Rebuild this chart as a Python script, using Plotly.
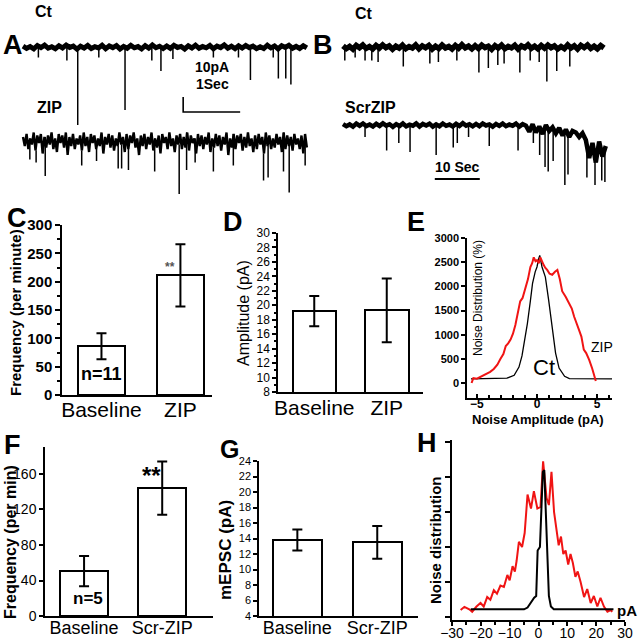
import numpy as np
import plotly.graph_objects as go

W, H = 639, 640
FONT = "Liberation Sans, Arial, sans-serif"
RED = "#f01414"

def fx(p):
    return p / W

def fy(p):
    return 1 - p / H

# ---------------- Panel A : recordings (time in s, current in pA) ----------------
a_dur = 4.98
a_ct_noise = [0.6, -0.9, 0.3, -1.2, 1.0, -0.4, 1.2, -0.8, 0.2, -1.1, 0.8, -0.6, 1.3, -0.3, 0.6, -1.4, 0.5, -0.7, 1.0, -1.0,
              0.2, -0.6, 1.2, -1.1, 0.7, -0.4, 0.9, -1.3, 0.4, -0.8, 1.1, -0.5, 0.3, -1.2, 0.9, -0.7, 1.3, -0.5, 0.5, -1.0,
              0.7, -0.9, 1.1, -0.3, 0.4, -1.3, 0.8, -0.6, 1.2, -0.9, 0.3, -0.5, 1.0, -1.2, 0.6, -0.4, 1.4, -0.8, 0.5, -1.1,
              0.8, -0.7, 1.0, -0.4, 0.6, -1.1, 0.2, -1.0, 1.2, -0.6, 0.7, -1.3, 0.9, -0.3, 1.1, -0.8, 0.4, -1.0, 0.8, -0.6]
a_ct_ev_t = [0.27, 0.77, 0.96, 1.33, 1.79, 2.26, 2.42, 2.63, 3.34, 3.78, 3.99, 4.39, 4.48, 4.61, 4.70]
a_ct_ev_depth = [7, 9, 52, 7, 42, 9, 16, 8, 7, 7, 22, 7, 21, 21, 25]

a_zip_offset = -62
a_zip_noise = [2, -4, 4, -6, 1, -3, 5, -7, 3, -2, 4, -9, 2, -5, 3, -3, 5, -6, 1, -8,
               4, -2, 3, -5, 5, -10, 2, -4, 4, -6, 1, -3, 3, -7, 5, -4, 2, -8, 4, -2,
               3, -6, 1, -4, 5, -9, 2, -3, 4, -5, 3, -7, 1, -4, 5, -3, 2, -8, 4, -6,
               3, -2, 5, -5, 1, -10, 3, -4, 4, -6, 2, -3, 5, -7, 1, -5, 3, -9, 4, -2,
               2, -6, 5, -4, 1, -8, 3, -3, 4, -6, 2, -5, 5, -7, 3, -2, 1, -9, 4, -4,
               3, -6, 2, -3, 5, -8, 1, -5, 4, -4, 3, -7, 2, -3, 5, -10, 1, -5, 4, -6,
               3, -2, 4, -7, 2, -5, 5, -4, 1, -8, 3, -6, 4, -3, 2, -9, 5, -4, 3, -6,
               1, -5, 4, -3, 2, -8, 5, -6, 3, -4, 2, -7, 4, -3, 1, -6, 3, -9, 4, -5]
a_zip_ev_t = [0.12, 0.23, 0.39, 1.03, 1.29, 1.67, 1.73, 1.85, 2.31, 2.74, 2.87, 3.02, 3.34, 3.69, 4.22, 4.30, 4.57, 4.67, 4.95]
a_zip_ev_depth = [13, 15, 24, 17, 14, 19, 19, 20, 21, 36, 20, 15, 21, 17, 27, 25, 21, 35, 17]

# ---------------- Panel B : recordings ----------------
b_ct_dur = 58.0
b_ct_noise = [0.8, -1.1, 0.4, -1.4, 1.1, -0.5, 1.3, -0.9, 0.3, -1.3, 1.0, -0.7, 1.4, -0.5, 0.7, -1.5, 0.5, -0.8, 1.2, -1.1,
              0.3, -0.7, 1.4, -1.2, 0.8, -0.5, 1.1, -1.4, 0.5, -1.0, 1.3, -0.6, 0.4, -1.3, 1.0, -0.8, 1.5, -0.6, 0.6, -1.2,
              0.9, -1.0, 1.2, -0.4, 0.5, -1.5, 0.9, -0.7, 1.3, -1.1, 0.4, -0.6, 1.1, -1.4, 0.7, -0.5, 1.5, -0.9, 0.6, -1.2,
              1.0, -0.8, 1.2, -0.5, 0.7, -1.3, 0.3, -1.1, 1.4, -0.7, 0.8, -1.4, 1.1, -0.4, 1.3, -1.0, 0.5, -1.2, 0.9, -0.7]
b_ct_ev_t = [0.4, 2.7, 4.9, 6.4, 7.8, 13.4, 19.3, 21.2, 25.3, 30.2, 32.3, 34.4, 35.8, 39.3, 41.6, 43.6, 45.3, 47.5, 50.4]
b_ct_ev_depth = [9, 7, 9, 9, 10, 13, 11, 10, 9, 17, 14, 12, 11, 17, 9, 10, 23, 16, 13]

b_scr_dur = 58.4
b_scr_offset = -52
b_scr_noise = [0.6, -0.8, 0.4, -1.1, 0.9, -0.5, 1.0, -0.7, 0.3, -1.0, 0.8, -0.6, 1.1, -0.4, 0.5, -1.2, 0.5, -0.7, 1.0, -0.9,
               0.2, -0.5, 1.1, -1.0, 0.7, -0.3, 0.9, -1.1, 0.4, -0.8, 1.0, -0.5, 0.3, -1.0, 0.8, -0.6, 1.2, -0.4, 0.5, -0.9,
               0.7, -0.8, 1.0, -0.3, 0.4, -1.1, 0.7, -0.6, 1.0, -0.8, 0.3, -0.5, 0.9, -1.1, 0.6,
               -0.5, -4.5, 0.5, -5.0, -1.0, -6.0, 0.0, -4.0, -1.5, -5.5,
               -2.0, -7.0, -3.0, -8.0, -4.0,
               -5.0, -8.0, -5.5,
               -10, -22, -12, -25, -11, -21, -14]
b_scr_ev_t = [4.9, 9.7, 12.4, 14.9, 20.7, 24.5, 25.4, 27.9, 32.5, 38.9, 42.3, 43.7, 44.9, 45.6, 46.7, 49.3, 50.0, 54.2, 56.0, 57.5, 58.2]
b_scr_ev_depth = [8, 17, 12, 18, 20, 15, 12, 8, 14, 17, 12, 20, 28, 31, 24, 40, 33, 35, 40, 37, 38]

# ---------------- Bar panels ----------------
c_cats = ["Baseline", "ZIP"]
c_vals = [86, 211]
c_errs = [23, 55]

d_cats = ["Baseline", "ZIP"]
d_vals = [19.2, 19.3]
d_errs = [2.1, 4.4]

f_cats = ["Baseline", "Scr-ZIP"]
f_vals = [50.5, 144]
f_errs = [17, 30]

g_cats = ["Baseline", "Scr-ZIP"]
g_vals = [13.8, 13.5]
g_errs = [1.35, 2.1]

# ---------------- Panel E : noise distributions ----------------
e_zip_x = [-5.45, -5.3, -5.0, -4.75, -4.45, -4.2, -3.9, -3.6, -3.3, -3.05, -2.8, -2.6, -2.4, -2.2, -2.0, -1.8, -1.6, -1.4,
           -1.2, -0.97, -0.75, -0.55, -0.4, -0.27, -0.12, 0.0, 0.15, 0.28, 0.42, 0.56, 0.7, 0.85, 1.05, 1.27, 1.5, 1.7,
           1.9, 2.1, 2.4, 2.7, 2.9, 3.1, 3.3, 3.5, 3.7, 3.9, 4.1, 4.35, 4.6, 4.8, 4.9]
e_zip_y = [0, 103, 90, 124, 150, 186, 230, 290, 380, 496, 600, 765, 820, 900, 1020, 1200, 1450, 1690,
           1760, 1960, 2150, 2400, 2480, 2600, 2520, 2540, 2480, 2600, 2500, 2440, 2380, 2340, 2260, 2240, 2300, 2340,
           2150, 1900, 1780, 1650, 1540, 1370, 1250, 1100, 960, 690, 620, 480, 300, 140, 40]
e_ct_x = [-5.5, -2.5, -1.9, -1.5, -1.25, -1.06, -0.8, -0.55, -0.37, -0.15, 0.0, 0.12, 0.23, 0.42, 0.7, 0.97, 1.27, 1.55, 1.84, 2.3, 2.7, 6.4]
e_ct_y = [85, 100, 160, 330, 560, 810, 1230, 1700, 2060, 2300, 2400, 2550, 2640, 2400, 2190, 1720, 1100, 620, 310, 140, 90, 85]

# ---------------- Panel H : noise distributions ----------------
h_scr_x = [-27.0, -25.7, -24.0, -23.0, -21.5, -20.1, -19.0, -17.8, -16.7, -15.5, -14.4, -13.2, -12.0, -10.8, -10.0, -9.0, -8.2, -7.6,
           -6.8, -5.7, -4.8, -3.8, -2.6, -1.6, -0.4, 0.7, 1.6, 2.8, 3.6, 4.5, 5.4, 6.3, 7.0, 7.8, 8.6, 9.4, 10.3, 11.1, 11.9,
           12.8, 13.6, 14.6, 15.8, 16.9, 18.1, 19.2, 20.4, 21.5, 22.7, 23.9, 25.0, 25.6]
h_scr_y = [0.2, 0.29, 0.22, 0.15, 0.3, 0.4, 0.3, 0.57, 0.49, 0.77, 0.67, 0.9, 0.86, 1.2, 1.05, 1.45, 1.3, 1.6,
           2.15, 2.0, 2.4, 3.5, 3.1, 3.6, 3.1, 3.15, 4.45, 3.4, 3.2, 4.15, 3.0, 2.5, 2.05, 2.3, 1.8, 1.9, 1.5, 1.8, 1.55,
           1.15, 1.3, 1.0, 0.57, 0.8, 0.4, 0.6, 0.3, 0.55, 0.3, 0.15, 0.2, 0.15]
h_ct_x = [-23.5, -5.0, -3.8, -2.5, -1.5, -0.8, -0.3, 0.5, 1.0, 1.5, 2.0, 2.6, 3.1, 3.6, 4.3, 5.3, 8.0, 26.0]
h_ct_y = [0.22, 0.22, 0.27, 0.45, 0.55, 0.6, 1.9, 2.0, 3.0, 4.15, 4.2, 3.0, 1.5, 0.6, 0.3, 0.22, 0.22, 0.22]

# scale bars (data units)
a_sb_t0, a_sb_p0, a_sb_dt, a_sb_dp = 2.81, -43.3, 1.0, 10.0
b_sb_t0, b_sb_p0, b_sb_dt = 20.4, -88.0, 10.0

fig = go.Figure()


def add_recording(noise, dur, offset, ev_t, ev_depth, xa, ya, width):
    t = np.linspace(0, dur, len(noise))
    y = np.asarray(noise, float) + offset
    fig.add_trace(go.Scatter(x=t, y=y, mode="lines", line=dict(color="black", width=width),
                             xaxis=xa, yaxis=ya, showlegend=False, hoverinfo="skip"))
    xs, ys = [], []
    n = len(noise)
    for te, d in zip(ev_t, ev_depth):
        i = int(round(te / dur * (n - 1)))
        xs += [te, te, None]
        ys += [y[i], offset - d, None]
    fig.add_trace(go.Scatter(x=xs, y=ys, mode="lines", line=dict(color="black", width=1.5),
                             xaxis=xa, yaxis=ya, showlegend=False, hoverinfo="skip"))


add_recording(a_ct_noise, a_dur, 0, a_ct_ev_t, a_ct_ev_depth, "x", "y", 5.0)
add_recording(a_zip_noise, a_dur, a_zip_offset, a_zip_ev_t, a_zip_ev_depth, "x", "y", 2.4)
add_recording(b_ct_noise, b_ct_dur, 0, b_ct_ev_t, b_ct_ev_depth, "x2", "y2", 5.5)
add_recording(b_scr_noise, b_scr_dur, b_scr_offset, b_scr_ev_t, b_scr_ev_depth, "x2", "y2", 4.5)

# scale bars
fig.add_trace(go.Scatter(x=[a_sb_t0, a_sb_t0, a_sb_t0 + a_sb_dt], y=[a_sb_p0 + a_sb_dp, a_sb_p0, a_sb_p0],
                         mode="lines", line=dict(color="black", width=1.6), xaxis="x", yaxis="y",
                         showlegend=False, hoverinfo="skip"))
fig.add_trace(go.Scatter(x=[b_sb_t0, b_sb_t0 + b_sb_dt], y=[b_sb_p0, b_sb_p0],
                         mode="lines", line=dict(color="black", width=1.8), xaxis="x2", yaxis="y2",
                         showlegend=False, hoverinfo="skip"))


def add_bars(vals, errs, xa, ya, width):
    fig.add_trace(go.Bar(x=[0, 1], y=vals, width=width,
                         marker=dict(color="white", line=dict(color="black", width=2)),
                         error_y=dict(type="data", array=errs, color="black", thickness=2, width=5),
                         xaxis=xa, yaxis=ya, showlegend=False, hoverinfo="skip"))


add_bars(c_vals, c_errs, "x3", "y3", 0.6)
add_bars(d_vals, d_errs, "x4", "y4", 0.6)
add_bars(f_vals, f_errs, "x6", "y6", 0.62)
add_bars(g_vals, g_errs, "x7", "y7", 0.61)

fig.add_trace(go.Scatter(x=e_ct_x, y=e_ct_y, mode="lines", line=dict(color="black", width=1.3),
                         xaxis="x5", yaxis="y5", showlegend=False, hoverinfo="skip"))
fig.add_trace(go.Scatter(x=e_zip_x, y=e_zip_y, mode="lines", line=dict(color=RED, width=2),
                         xaxis="x5", yaxis="y5", showlegend=False, hoverinfo="skip"))
fig.add_trace(go.Scatter(x=h_scr_x, y=h_scr_y, mode="lines", line=dict(color=RED, width=2),
                         xaxis="x8", yaxis="y8", showlegend=False, hoverinfo="skip"))
fig.add_trace(go.Scatter(x=h_ct_x, y=h_ct_y, mode="lines", line=dict(color="black", width=2),
                         xaxis="x8", yaxis="y8", showlegend=False, hoverinfo="skip"))


def hidden(domain, rng, anchor):
    return dict(domain=domain, range=rng, visible=False, anchor=anchor, fixedrange=True, automargin=False)


def ax_common(**kw):
    d = dict(showline=True, linecolor="black", linewidth=1.5, showgrid=False, zeroline=False,
             ticks="outside", tickcolor="black", tickwidth=1.5, ticklen=5, automargin=False, tickangle=0,
             tickfont=dict(family=FONT, color="black", size=12))
    d.update(kw)
    return d


def cat_axis(domain, rng, anchor, cats, size, standoff):
    return ax_common(domain=domain, range=rng, anchor=anchor, ticks="", tickvals=[0, 1], ticktext=cats,
                     ticklabelstandoff=standoff,
                     tickfont=dict(family=FONT, color="black", size=size))


layout_axes = dict(
    xaxis=hidden([0, fx(320)], [-23 / 57, (320 - 23) / 57], "y"),
    yaxis=hidden([fy(200), 1], [-102, 31.33], "x"),
    xaxis2=hidden([fx(320), 1], [-23 / 4.5, (639 - 343) / 4.5], "y2"),
    yaxis2=hidden([fy(200), 1], [-102, 31.33], "x2"),
    # C
    xaxis3=cat_axis([fx(62), fx(212)], [-0.5, 1.4], "y3", c_cats, 21, -5),
    yaxis3=ax_common(domain=[fy(395), fy(225)], range=[0, 300], anchor="x3", dtick=50,
                     minor=dict(ticks="outside", ticklen=3, dtick=25, tickcolor="black"),
                     tickfont=dict(family=FONT, color="black", size=15, weight="bold")),
    # D
    xaxis4=cat_axis([fx(278), fx(423)], [-0.5, 1.5], "y4", d_cats, 21, -4),
    yaxis4=ax_common(domain=[fy(392), fy(233)], range=[8, 30], anchor="x4", dtick=2, ticklen=4,
                     minor=dict(ticks="outside", ticklen=2, dtick=1, tickcolor="black"),
                     tickfont=dict(family=FONT, color="black", size=12)),
    # E
    xaxis5=ax_common(domain=[fx(467), fx(612)], range=[-5.83, 6.25], anchor="y5", tickvals=[-5, 0, 5],
                     ticks="inside", ticklen=4, ticklabelstandoff=-6,
                     minor=dict(ticks="inside", ticklen=3, dtick=1, tickcolor="black"),
                     tickfont=dict(family=FONT, color="black", size=12, weight="bold")),
    yaxis5=ax_common(domain=[fy(398), fy(238)], range=[-310, 3000], anchor="x5", dtick=500, ticklen=4,
                     tickfont=dict(family=FONT, color="black", size=11, weight="bold")),
    # F
    xaxis6=cat_axis([fx(45), fx(213)], [-0.5, 1.65], "y6", f_cats, 18, -5),
    yaxis6=ax_common(domain=[fy(616), fy(447)], range=[0, 190.4], anchor="x6", tickvals=[0, 40, 80, 120, 160],
                     ticklen=4, tickfont=dict(family=FONT, color="black", size=14)),
    # G
    xaxis7=cat_axis([fx(259), fx(418)], [-0.48, 1.51], "y7", g_cats, 18, -5),
    yaxis7=ax_common(domain=[fy(616), fy(461)], range=[4, 24], anchor="x7", dtick=2, ticklen=4,
                     tickfont=dict(family=FONT, color="black", size=11)),
    # H
    xaxis8=ax_common(domain=[fx(452), fx(625)], range=[-30, 30], anchor="y8", dtick=10, ticklen=4,
                     ticklabelstandoff=-5,
                     minor=dict(ticks="outside", ticklen=3, dtick=5, tickcolor="black"),
                     tickfont=dict(family=FONT, color="black", size=14)),
    yaxis8=ax_common(domain=[fy(620), fy(440)], range=[-0.086, 5.06], anchor="x8", tickvals=[0, 1, 2, 3, 4, 5],
                     showticklabels=False),
)

texts = [
    ("Ct", 44, 11, 16, True, 0),
    ("A", 13, 45, 27, True, 0),
    ("10pA", 212, 67, 14, True, 0),
    ("1Sec", 212, 84, 14, True, 0),
    ("ZIP", 49, 108, 16, True, 0),
    ("B", 323, 45, 27, True, 0),
    ("Ct", 364, 14, 16, True, 0),
    ("ScrZIP", 370, 107, 16, True, 0),
    ("10 Sec", 457, 167, 14, True, 0),
    ("C", 17, 218, 27, True, 0),
    ("D", 233, 222, 27, True, 0),
    ("E", 416, 222, 27, True, 0),
    ("F", 12, 445, 27, True, 0),
    ("G", 229, 449, 25, True, 0),
    ("H", 427, 443, 27, True, 0),
    ("**", 151, 475, 24, True, 0),
    ("n=11", 101, 374, 18, True, 0),
    ("n=5", 88, 598, 17, True, 0),
    ("Frequency (per minute)", 15, 313, 15, True, -90),
    ("Amplitude (pA)", 243, 313, 16, False, -90),
    ("Noise Distribution (%)", 478, 298, 12, False, -90),
    ("Noise Amplitude (pA)", 538, 419, 13, True, 0),
    ("ZIP", 602, 347, 14, False, 0),
    ("Ct", 544, 367, 22, False, 0),
    ("Frequency (per min)", 10, 542, 16, True, -90),
    ("mEPSC (pA)", 225, 550, 17, True, -90),
    ("Noise distribution", 435, 540, 15, True, -90),
    ("pA", 627, 610, 15, True, 0),
]
annotations = []
for txt, x, y, size, bold, ang in texts:
    annotations.append(dict(text=txt, x=fx(x), y=fy(y), xref="paper", yref="paper", showarrow=False,
                            xanchor="center", yanchor="middle", textangle=ang,
                            font=dict(family=FONT, size=size, color="black", weight="bold" if bold else "normal")))
annotations.append(dict(text="**", x=fx(170), y=fy(267), xref="paper", yref="paper", showarrow=False,
                        xanchor="center", yanchor="middle",
                        font=dict(family=FONT, size=12, color="#555555", weight="bold")))

fig.update_layout(
    template="none",
    width=W, height=H, margin=dict(l=0, r=0, t=0, b=0, autoexpand=False),
    paper_bgcolor="white", plot_bgcolor="rgba(0,0,0,0)",
    showlegend=False, bargap=0, annotations=annotations,
    font=dict(family=FONT, color="black"),
    **layout_axes,
)
fig.write_html("out.html", config={"displayModeBar": False},
               post_script="document.body.style.margin='0';document.body.style.overflow='hidden';")
